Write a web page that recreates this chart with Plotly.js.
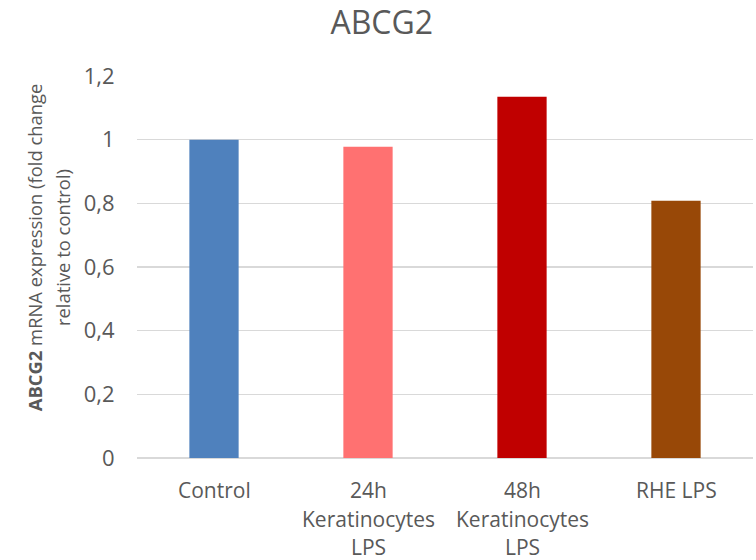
<!DOCTYPE html>
<html>
<head>
<meta charset="utf-8">
<script src="https://cdn.plot.ly/plotly-3.0.1.min.js"></script>
<style>html,body{margin:0;padding:0;background:#fff;}#chart{width:756px;height:560px;}</style>
</head>
<body>
<div id="chart"></div>
<script>
var categories = ["Control", "24h Keratinocytes LPS", "48h Keratinocytes LPS", "RHE LPS"];
var categoryLines = [["Control"], ["24h", "Keratinocytes", "LPS"], ["48h", "Keratinocytes", "LPS"], ["RHE LPS"]];
var values = [1.0, 0.978, 1.135, 0.808];
var barColors = ["#4F81BD", "#FF7171", "#C00000", "#984807"];
var yTickVals = [0, 0.2, 0.4, 0.6, 0.8, 1, 1.2];
var yTickText = ["0", "0,2", "0,4", "0,6", "0,8", "1", "1,2"];
var yTitleLines = ["<b>ABCG2</b> mRNA expression (fold change", "relative to control)"];

var FONT = "Open Sans, sans-serif";
var GREY = "#595959";

var annotations = [];
var lineOffsets = [0, -28.5, -57];
categoryLines.forEach(function (lines, i) {
  lines.forEach(function (ln, j) {
    annotations.push({
      x: categories[i], xref: "x", y: 0, yref: "paper",
      yanchor: "middle", xanchor: "center",
      yshift: -32 + lineOffsets[j],
      text: ln, showarrow: false,
      font: {family: FONT, size: 21, color: GREY}
    });
  });
});
var titleXs = [-0.167, -0.122];
yTitleLines.forEach(function (ln, j) {
  annotations.push({
    x: titleXs[j], xref: "paper", y: 0.552, yref: "paper",
    xanchor: "center", yanchor: "middle", textangle: -90,
    text: ln, showarrow: false,
    font: {family: FONT, size: 18.4, color: GREY}
  });
});

var trace = {
  type: "bar",
  x: categories,
  y: values,
  marker: {color: barColors},
  hoverinfo: "none"
};

var layout = {
  width: 756, height: 560,
  margin: {l: 137, r: 3, t: 76, b: 102},
  paper_bgcolor: "#fff", plot_bgcolor: "#fff",
  showlegend: false,
  bargap: 0.68,
  title: {text: "ABCG2", x: 0.505, xanchor: "center", y: 0.96, yanchor: "middle",
          font: {family: FONT, size: 32, color: GREY}},
  xaxis: {
    type: "category",
    showticklabels: false, showgrid: false, zeroline: false,
    showline: false, ticks: ""
  },
  yaxis: {
    range: [0, 1.2],
    tickvals: yTickVals, ticktext: yTickText,
    showgrid: true, gridcolor: "#D9D9D9", gridwidth: 1.5,
    zeroline: true, zerolinecolor: "#D9D9D9", zerolinewidth: 1.5,
    showline: false,
    ticks: "outside", ticklen: 17, tickcolor: "rgba(0,0,0,0)",
    tickfont: {family: FONT, size: 22, color: GREY}
  },
  annotations: annotations
};

Plotly.newPlot("chart", [trace], layout, {staticPlot: true, displayModeBar: false});
</script>
</body>
</html>
